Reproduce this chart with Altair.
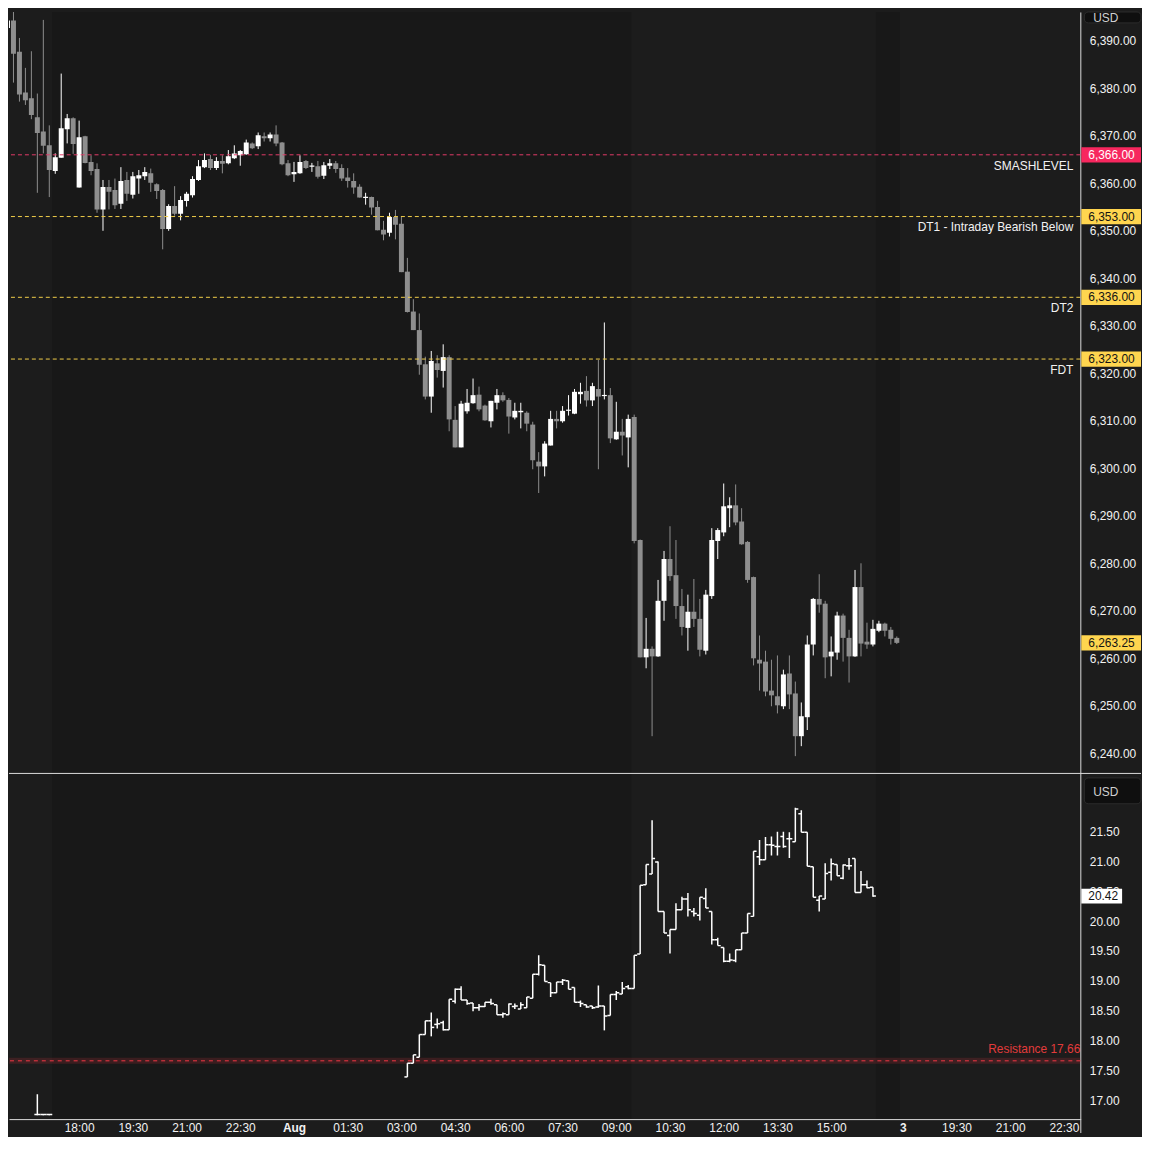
import altair as alt
import pandas as pd

FONT = "Liberation Sans"
BG = "#1c1c1c"
DARK = "#181818"
TXT = "#f2f2f2"
LINE = "#dcdcdc"
UP = "#ffffff"
DOWN = "#8e8e8e"

# ---------------- main pane: 10-minute candles, bar index 0 = 15:00 (Jul 31) ----------------
es_idx = list(range(-1, 150))
es_open = [6402.0, 6392.7, 6394.3, 6387.7, 6379.1, 6377.9, 6373.9, 6370.9, 6368.0, 6362.6, 6365.4, 6371.4, 6373.7, 6359.1, 6369.9, 6364.5, 6363.0, 6354.5, 6359.2, 6358.6, 6355.7, 6360.7, 6357.6, 6361.0, 6361.5, 6362.1, 6359.8, 6358.6, 6350.4, 6355.2, 6353.6, 6356.3, 6357.5, 6360.7, 6363.4, 6365.1, 6363.2, 6364.7, 6364.2, 6365.3, 6365.9, 6366.1, 6368.4, 6367.8, 6369.9, 6369.5, 6370.3, 6368.6, 6364.2, 6361.9, 6362.1, 6364.7, 6363.5, 6363.6, 6361.6, 6363.7, 6364.2, 6363.2, 6361.2, 6360.5, 6359.3, 6356.9, 6357.1, 6355.0, 6350.2, 6349.6, 6352.9, 6351.5, 6341.4, 6333.0, 6329.1, 6321.9, 6315.1, 6322.1, 6320.5, 6323.4, 6310.2, 6304.4, 6312.0, 6313.7, 6315.5, 6313.2, 6309.9, 6313.8, 6315.4, 6314.4, 6310.7, 6311.8, 6311.7, 6309.2, 6301.4, 6300.4, 6304.8, 6310.4, 6309.9, 6312.1, 6311.5, 6315.6, 6316.3, 6314.3, 6316.7, 6315.2, 6315.4, 6306.1, 6307.7, 6306.5, 6310.8, 6284.9, 6260.2, 6262.0, 6260.4, 6272.1, 6280.9, 6277.5, 6271.0, 6266.4, 6269.8, 6268.3, 6261.6, 6273.1, 6284.7, 6286.5, 6291.6, 6292.2, 6288.8, 6284.5, 6277.1, 6259.7, 6259.3, 6253.2, 6252.0, 6249.9, 6256.8, 6252.6, 6243.6, 6247.6, 6262.9, 6272.5, 6271.5, 6260.4, 6261.2, 6269.0, 6264.3, 6260.4, 6275.0, 6263.5, 6262.9, 6265.8, 6267.3, 6266.0, 6264.3]
es_high = [6403.0, 6401.0, 6396.2, 6390.6, 6384.3, 6387.8, 6378.9, 6394.4, 6372.2, 6366.3, 6383.1, 6374.6, 6373.9, 6373.2, 6370.0, 6365.9, 6364.2, 6360.7, 6360.7, 6361.0, 6363.4, 6362.4, 6362.4, 6362.8, 6363.4, 6363.1, 6360.0, 6358.8, 6355.6, 6359.4, 6357.3, 6358.2, 6361.5, 6364.9, 6366.3, 6366.0, 6365.5, 6365.9, 6367.0, 6368.0, 6367.0, 6369.2, 6368.6, 6370.7, 6370.7, 6370.7, 6372.2, 6368.7, 6364.9, 6364.5, 6365.9, 6364.9, 6364.3, 6364.7, 6364.5, 6365.1, 6364.7, 6364.0, 6363.2, 6362.1, 6359.8, 6358.0, 6357.2, 6356.3, 6352.1, 6353.8, 6354.4, 6352.9, 6344.3, 6335.6, 6332.6, 6323.5, 6324.7, 6323.8, 6326.1, 6323.8, 6313.1, 6314.2, 6316.7, 6318.9, 6317.2, 6313.4, 6314.2, 6316.7, 6316.0, 6314.8, 6313.8, 6313.8, 6312.0, 6309.8, 6303.4, 6305.7, 6312.1, 6312.1, 6313.1, 6315.4, 6316.7, 6318.0, 6319.4, 6318.0, 6322.8, 6330.7, 6316.9, 6314.0, 6310.4, 6311.3, 6311.3, 6285.0, 6268.5, 6262.5, 6276.5, 6282.6, 6287.8, 6284.9, 6274.6, 6273.4, 6276.7, 6272.5, 6274.4, 6287.4, 6287.4, 6296.8, 6293.9, 6296.6, 6291.6, 6284.7, 6277.2, 6264.8, 6261.6, 6259.7, 6260.6, 6257.6, 6260.6, 6255.1, 6250.7, 6264.8, 6272.7, 6277.7, 6272.1, 6264.6, 6269.8, 6269.4, 6266.0, 6278.6, 6280.0, 6267.5, 6268.1, 6267.9, 6267.5, 6266.6, 6264.6]
es_low = [6390.8, 6392.5, 6381.2, 6377.2, 6376.5, 6373.5, 6358.0, 6366.3, 6357.1, 6362.0, 6365.4, 6368.4, 6366.2, 6359.1, 6364.2, 6361.7, 6353.8, 6350.0, 6354.5, 6354.6, 6354.6, 6356.3, 6356.8, 6357.8, 6360.7, 6358.2, 6356.7, 6346.1, 6350.0, 6353.2, 6352.2, 6355.1, 6357.0, 6360.5, 6363.2, 6362.8, 6362.8, 6362.1, 6364.0, 6365.1, 6363.7, 6366.0, 6367.2, 6367.2, 6368.8, 6368.8, 6367.8, 6363.8, 6361.5, 6360.3, 6362.0, 6363.0, 6362.4, 6361.0, 6360.9, 6363.0, 6362.2, 6360.5, 6359.1, 6357.8, 6357.0, 6355.5, 6353.4, 6350.1, 6348.0, 6348.8, 6348.2, 6341.3, 6332.8, 6329.1, 6319.7, 6314.5, 6311.7, 6319.1, 6317.0, 6307.8, 6304.4, 6304.4, 6311.5, 6313.6, 6312.0, 6310.0, 6308.6, 6312.4, 6314.0, 6307.3, 6310.3, 6308.4, 6307.8, 6299.8, 6294.8, 6298.3, 6304.8, 6308.4, 6309.6, 6311.1, 6311.4, 6313.6, 6313.0, 6313.1, 6299.8, 6314.5, 6305.3, 6306.0, 6302.7, 6300.2, 6284.2, 6260.2, 6257.9, 6243.6, 6260.3, 6267.9, 6276.3, 6268.3, 6264.8, 6261.6, 6266.6, 6260.4, 6260.8, 6272.5, 6280.9, 6285.7, 6287.6, 6288.0, 6283.9, 6275.9, 6258.5, 6253.2, 6252.0, 6249.9, 6248.4, 6249.3, 6249.3, 6239.4, 6241.5, 6244.9, 6260.6, 6269.6, 6255.8, 6256.2, 6259.7, 6259.3, 6254.9, 6260.3, 6260.4, 6262.0, 6262.5, 6265.5, 6264.6, 6262.9, 6263.0]
es_close = [6392.7, 6394.3, 6387.3, 6378.7, 6377.5, 6374.4, 6370.6, 6367.9, 6362.8, 6365.5, 6371.6, 6373.7, 6368.3, 6369.7, 6364.3, 6362.6, 6354.5, 6359.2, 6358.2, 6355.4, 6360.5, 6357.8, 6361.5, 6361.7, 6362.4, 6360.1, 6358.4, 6350.4, 6355.2, 6353.6, 6356.5, 6357.8, 6360.9, 6363.6, 6364.9, 6363.2, 6364.7, 6364.1, 6365.7, 6366.3, 6366.8, 6368.6, 6367.4, 6370.1, 6369.5, 6370.3, 6368.4, 6364.0, 6361.7, 6362.4, 6364.5, 6363.2, 6363.7, 6361.4, 6363.8, 6364.2, 6363.0, 6361.0, 6360.5, 6359.1, 6357.0, 6357.1, 6354.9, 6350.1, 6349.2, 6352.9, 6351.3, 6341.3, 6332.9, 6329.1, 6321.8, 6315.1, 6322.6, 6320.7, 6323.4, 6310.3, 6304.4, 6313.6, 6313.8, 6315.4, 6312.4, 6310.1, 6314.2, 6315.4, 6314.3, 6310.9, 6312.1, 6312.1, 6309.4, 6301.7, 6300.4, 6305.2, 6310.4, 6309.9, 6312.1, 6312.2, 6316.1, 6316.1, 6314.3, 6317.3, 6315.1, 6315.4, 6306.3, 6307.7, 6306.9, 6310.4, 6284.7, 6260.2, 6262.0, 6260.4, 6272.1, 6280.9, 6277.3, 6271.0, 6266.6, 6269.8, 6268.3, 6261.8, 6273.4, 6284.9, 6287.0, 6292.0, 6292.2, 6288.6, 6284.0, 6276.5, 6260.0, 6258.9, 6253.0, 6252.2, 6250.1, 6256.6, 6252.4, 6243.6, 6247.8, 6262.9, 6272.5, 6271.3, 6260.2, 6261.4, 6269.0, 6264.3, 6260.4, 6275.0, 6263.1, 6262.9, 6266.2, 6267.3, 6265.8, 6264.1, 6263.25]

# ---------------- lower pane: OHLC bars ----------------
vix_idx = [5, 6, 7] + list(range(67, 146))
vix_open = [16.76, 16.76, 16.76,
            17.39, 17.62, 17.72, 18.10, 18.33, 18.27, 18.30, 18.18, 18.66, 18.86,
            18.68, 18.63, 18.55, 18.57, 18.64, 18.60, 18.43, 18.43, 18.57, 18.53,
            18.55, 18.71, 19.11, 19.26, 18.97, 18.80, 18.98, 19.00, 18.89, 18.64,
            18.60, 18.58, 18.56, 18.58, 18.42, 18.77, 18.78, 18.90, 18.87, 19.45,
            20.61, 20.79, 20.99, 20.16, 19.76, 19.86, 20.19, 20.37, 20.16, 20.10,
            20.38, 20.16, 19.69, 19.56, 19.33, 19.34, 19.52, 19.80, 20.08, 21.08,
            21.03, 21.28, 21.25, 21.42, 21.38, 21.33, 21.80, 21.49, 20.91, 20.35,
            20.37, 20.82, 20.95, 20.72, 20.93, 21.05, 20.48, 20.61, 20.57]
vix_high = [17.10, 16.77, 16.77,
            17.62, 17.76, 18.10, 18.33, 18.47, 18.37, 18.33, 18.69, 18.87, 18.91,
            18.68, 18.63, 18.61, 18.64, 18.70, 18.60, 18.47, 18.62, 18.62, 18.64,
            18.73, 19.11, 19.43, 19.26, 18.97, 18.98, 19.03, 19.00, 18.89, 18.67,
            18.60, 18.58, 18.92, 18.58, 18.77, 18.83, 18.98, 18.93, 19.43, 20.60,
            20.95, 21.69, 21.00, 20.16, 19.86, 20.30, 20.41, 20.47, 20.22, 20.40,
            20.55, 20.16, 19.72, 19.56, 19.46, 19.52, 19.80, 20.13, 21.17, 21.36,
            21.41, 21.42, 21.50, 21.50, 21.49, 21.90, 21.86, 21.49, 20.91, 20.42,
            20.97, 21.05, 20.95, 20.95, 21.06, 21.05, 20.84, 20.68, 20.57]
vix_low = [16.75, 16.75, 16.75,
           17.39, 17.62, 17.72, 18.10, 18.07, 18.20, 18.17, 18.18, 18.62, 18.68,
           18.60, 18.49, 18.50, 18.56, 18.60, 18.43, 18.38, 18.43, 18.53, 18.53,
           18.55, 18.71, 19.09, 18.99, 18.73, 18.80, 18.93, 18.86, 18.64, 18.56,
           18.55, 18.53, 18.55, 18.17, 18.42, 18.68, 18.78, 18.86, 18.87, 19.45,
           20.61, 20.79, 20.16, 19.80, 19.46, 19.86, 20.19, 20.08, 20.08, 20.01,
           20.22, 19.61, 19.59, 19.31, 19.31, 19.31, 19.52, 19.80, 20.08, 20.94,
           21.03, 21.10, 21.10, 21.23, 21.06, 21.33, 21.49, 20.92, 20.40, 20.16,
           20.37, 20.68, 20.76, 20.70, 20.86, 20.48, 20.48, 20.55, 20.41]
vix_close = [16.76, 16.76, 16.76,
             17.62, 17.76, 18.10, 18.33, 18.22, 18.28, 18.18, 18.69, 18.86, 18.68,
             18.62, 18.55, 18.57, 18.64, 18.62, 18.43, 18.45, 18.61, 18.58, 18.60,
             18.73, 19.11, 19.27, 18.99, 18.80, 18.98, 19.01, 18.86, 18.64, 18.62,
             18.56, 18.55, 18.58, 18.41, 18.77, 18.80, 18.87, 18.87, 19.43, 20.60,
             20.95, 21.05, 20.16, 19.80, 19.86, 20.19, 20.37, 20.19, 20.13, 20.40,
             20.22, 19.69, 19.59, 19.33, 19.35, 19.52, 19.80, 20.13, 21.17, 21.03,
             21.28, 21.27, 21.25, 21.25, 21.38, 21.88, 21.49, 20.92, 20.40, 20.42,
             20.80, 20.96, 20.76, 20.94, 20.93, 20.48, 20.61, 20.56, 20.42]

# ---------------- levels / labels ----------------
level_price = [6366.0, 6353.0, 6336.0, 6323.0]
level_name = ["SMASHLEVEL", "DT1 - Intraday Bearish Below", "DT2", "FDT"]
level_color = ["#e23a68", "#f2cf4a", "#f2cf4a", "#f2cf4a"]
tag_price = [6366.0, 6353.0, 6336.0, 6323.0, 6263.25]
tag_fill = ["#f7275e", "#ffd54f", "#ffd54f", "#ffd54f", "#ffd54f"]
tag_text = ["#ffffff", "#131313", "#131313", "#131313", "#131313"]
vix_last = [20.42]
res_value = [17.66]
res_label = ["Resistance 17.66"]

es_ticks = [6240, 6250, 6260, 6270, 6280, 6290, 6300, 6310, 6320, 6330, 6340, 6350, 6360, 6370, 6380, 6390]
vix_ticks = [17.0, 17.5, 18.0, 18.5, 19.0, 19.5, 20.0, 20.5, 21.0, 21.5]
time_idx = [12, 21, 30, 39, 48, 57, 66, 75, 84, 93, 102, 111, 120, 129, 138, 150, 159, 168, 177]
time_lbl = ["18:00", "19:30", "21:00", "22:30", "Aug", "01:30", "03:00", "04:30", "06:00", "07:30",
            "09:00", "10:30", "12:00", "13:30", "15:00", "3", "19:30", "21:00", "22:30"]
dark_start = [7.5, 145.5]   # outside regular session
dark_end = [104.5, 149.5]

for a in (es_open, es_high, es_low, es_close):
    assert len(a) == len(es_idx), len(a)
for a in (vix_open, vix_high, vix_low, vix_close):
    assert len(a) == len(vix_idx), len(a)

# ---------------- geometry ----------------
W = 1077
H1 = 765
H2 = 348
X_DOM = [0.25, 179.75]
ES_DOM = [6235.864, 6396.073]
VX_DOM = [16.6833, 22.4833]

xs = alt.Scale(domain=X_DOM, nice=False, zero=False)
ys1 = alt.Scale(domain=ES_DOM, nice=False, zero=False)
ys2 = alt.Scale(domain=VX_DOM, nice=False, zero=False)

yax1 = alt.Axis(orient="right", values=es_ticks, format=",.2f", title=None, ticks=False, grid=False,
                domain=True, domainColor=LINE, labelPadding=9, labelColor=TXT, labelFont=FONT,
                labelFontSize=12, labelOverlap=False, labelFlush=False)
yax2 = alt.Axis(orient="right", values=vix_ticks, format=".2f", title=None, ticks=False, grid=False,
                domain=True, domainColor=LINE, labelPadding=9, labelColor=TXT, labelFont=FONT,
                labelFontSize=12, labelOverlap=False, labelFlush=False)
lbl_expr = "[" + ",".join("'%s'" % s for s in time_lbl) + "][indexof([" + ",".join(str(v) for v in time_idx) + "], datum.value)]"
xax = alt.Axis(values=time_idx, labelExpr=lbl_expr, title=None, ticks=False, grid=False, domain=True,
               domainColor=LINE, labelColor=TXT, labelFont=FONT, labelFontSize=12, labelPadding=3,
               labelFlush=False, labelOverlap=False, labelAngle=0,
               labelFontWeight=alt.condition("datum.value == 48 || datum.value == 150",
                                             alt.value("bold"), alt.value("normal")))

one = pd.DataFrame({"a": [0]})
dark = pd.DataFrame({"s": dark_start, "e": dark_end})
es = pd.DataFrame({"i": es_idx, "o": es_open, "h": es_high, "l": es_low, "c": es_close})
es["dir"] = ["up" if c >= o else "down" for o, c in zip(es_open, es_close)]
levels = pd.DataFrame({"p": level_price, "name": level_name, "col": level_color})
tags = pd.DataFrame({"p": tag_price, "fill": tag_fill, "tc": tag_text})
vx = pd.DataFrame({"i": vix_idx, "o": vix_open, "h": vix_high, "l": vix_low, "c": vix_close})
res = pd.DataFrame({"v": res_value, "lab": res_label})
vlast = pd.DataFrame({"v": vix_last})

dir_color = alt.Color("dir:N", scale=alt.Scale(domain=["up", "down"], range=[UP, DOWN]), legend=None)

# ---------------- top pane ----------------
shade1 = alt.Chart(dark).mark_rect(color=DARK, clip=True).encode(
    x=alt.X("s:Q", scale=xs, axis=None), x2="e:Q", y=alt.value(0), y2=alt.value(H1))

wick = alt.Chart(es).transform_calculate(
    lo="min(datum.l, datum.o, datum.c)", hi="max(datum.h, datum.o, datum.c)"
).mark_rule(clip=True, strokeWidth=1).encode(
    x=alt.X("i:Q", scale=xs, axis=None),
    y=alt.Y("lo:Q", scale=ys1, axis=yax1), y2="hi:Q", color=dir_color)

body = alt.Chart(es).transform_calculate(
    xa="datum.i - 0.4167", xb="datum.i + 0.4167",
    b0="min(datum.o, datum.c)", b1="max(max(datum.o, datum.c), min(datum.o, datum.c) + 0.25)"
).mark_rect(clip=True).encode(
    x=alt.X("xa:Q", scale=xs, axis=None), x2="xb:Q",
    y=alt.Y("b0:Q", scale=ys1, axis=yax1), y2="b1:Q", color=dir_color)

lvl_lines = alt.Chart(levels).mark_rule(strokeDash=[4, 3], strokeWidth=1).encode(
    y=alt.Y("p:Q", scale=ys1, axis=yax1), color=alt.Color("col:N", scale=None))

lvl_text = alt.Chart(levels).mark_text(align="right", baseline="middle", dy=11, font=FONT,
                                       fontSize=12, color=TXT).encode(
    x=alt.value(1070), y=alt.Y("p:Q", scale=ys1, axis=yax1), text="name:N")

tag_box = alt.Chart(tags).transform_calculate(t0="datum.p - 1.6", t1="datum.p + 1.6").mark_rect().encode(
    x=alt.value(1078), x2=alt.value(1138), y=alt.Y("t0:Q", scale=ys1, axis=yax1), y2="t1:Q",
    color=alt.Color("fill:N", scale=None))

tag_lbl = alt.Chart(tags).mark_text(align="left", baseline="middle", font=FONT, fontSize=12).encode(
    x=alt.value(1085), y=alt.Y("p:Q", scale=ys1, axis=yax1),
    text=alt.Text("p:Q", format=",.2f"), color=alt.Color("tc:N", scale=None))

usd1_box = alt.Chart(one).mark_rect(fill="#0f0f0f", stroke="#2c2c2c", strokeWidth=1, cornerRadius=4).encode(
    x=alt.value(1081), x2=alt.value(1138), y=alt.value(0), y2=alt.value(11))
usd1_txt = alt.Chart(one).mark_text(text="USD", align="left", baseline="middle", font=FONT,
                                    fontSize=12, color="#d0d0d0").encode(x=alt.value(1090), y=alt.value(6))

top = alt.layer(shade1, wick, body, lvl_lines, lvl_text, tag_box, tag_lbl, usd1_box, usd1_txt).properties(
    width=W, height=H1)

# ---------------- lower pane ----------------
shade2 = alt.Chart(dark).mark_rect(color=DARK, clip=True).encode(
    x=alt.X("s:Q", scale=xs, axis=xax), x2="e:Q", y=alt.value(0), y2=alt.value(H2))

band = alt.Chart(res).transform_calculate(r0="datum.v - 0.05", r1="datum.v + 0.05").mark_rect(
    color="#f23645", opacity=0.16).encode(y=alt.Y("r0:Q", scale=ys2, axis=yax2), y2="r1:Q",
                                          x=alt.value(0), x2=alt.value(W))
res_line = alt.Chart(res).mark_rule(color="#f23645", strokeDash=[4, 4], strokeWidth=1).encode(
    y=alt.Y("v:Q", scale=ys2, axis=yax2))
res_text = alt.Chart(res).mark_text(align="right", baseline="middle", dy=-12, font=FONT, fontSize=12,
                                    color="#e23b3b").encode(
    x=alt.value(W), y=alt.Y("v:Q", scale=ys2, axis=yax2), text="lab:N")

vbar = alt.Chart(vx).transform_calculate(
    lo="min(datum.l, datum.o, datum.c)", hi="max(datum.h, datum.o, datum.c)"
).mark_rule(clip=True, strokeWidth=1.5, color="#ffffff").encode(
    x=alt.X("i:Q", scale=xs, axis=xax), y=alt.Y("lo:Q", scale=ys2, axis=yax2), y2="hi:Q")
vopen = alt.Chart(vx).transform_calculate(xa="datum.i - 0.5", xb="datum.i").mark_rule(
    clip=True, strokeWidth=1.5, color="#ffffff").encode(
    x=alt.X("xa:Q", scale=xs, axis=xax), x2="xb:Q", y=alt.Y("o:Q", scale=ys2, axis=yax2))
vclose = alt.Chart(vx).transform_calculate(xa="datum.i", xb="datum.i + 0.5").mark_rule(
    clip=True, strokeWidth=1.5, color="#ffffff").encode(
    x=alt.X("xa:Q", scale=xs, axis=xax), x2="xb:Q", y=alt.Y("c:Q", scale=ys2, axis=yax2))

vtag = alt.Chart(vlast).transform_calculate(t0="datum.v - 0.125", t1="datum.v + 0.125").mark_rect(
    color="#ffffff").encode(x=alt.value(1078), x2=alt.value(1119),
                            y=alt.Y("t0:Q", scale=ys2, axis=yax2), y2="t1:Q")
vtag_txt = alt.Chart(vlast).mark_text(align="left", baseline="middle", font=FONT, fontSize=12,
                                      color="#131313").encode(
    x=alt.value(1085), y=alt.Y("v:Q", scale=ys2, axis=yax2), text=alt.Text("v:Q", format=".2f"))

usd2_box = alt.Chart(one).mark_rect(fill="#0f0f0f", stroke="#2c2c2c", strokeWidth=1, cornerRadius=4).encode(
    x=alt.value(1081), x2=alt.value(1138), y=alt.value(5), y2=alt.value(31))
usd2_txt = alt.Chart(one).mark_text(text="USD", align="left", baseline="middle", font=FONT,
                                    fontSize=12, color="#d0d0d0").encode(x=alt.value(1090), y=alt.value(19))

sep = alt.Chart(one).mark_rule(color=LINE, strokeWidth=1).encode(
    x=alt.value(0), x2=alt.value(1138), y=alt.value(0.5))
vsep = alt.Chart(one).mark_rule(color=LINE, strokeWidth=1).encode(
    x=alt.value(W + 0.5), y=alt.value(H2), y2=alt.value(H2 + 14))

bottom = alt.layer(shade2, band, res_line, res_text, vbar, vopen, vclose, vtag, vtag_txt,
                   usd2_box, usd2_txt, sep, vsep).properties(width=W, height=H2)

chart = alt.vconcat(top, bottom, spacing=0, bounds="flush", padding=0).configure(
    background=BG, font=FONT).configure_view(strokeWidth=0)

chart.save("out.html", embed_options={"renderer": "svg", "actions": False})
